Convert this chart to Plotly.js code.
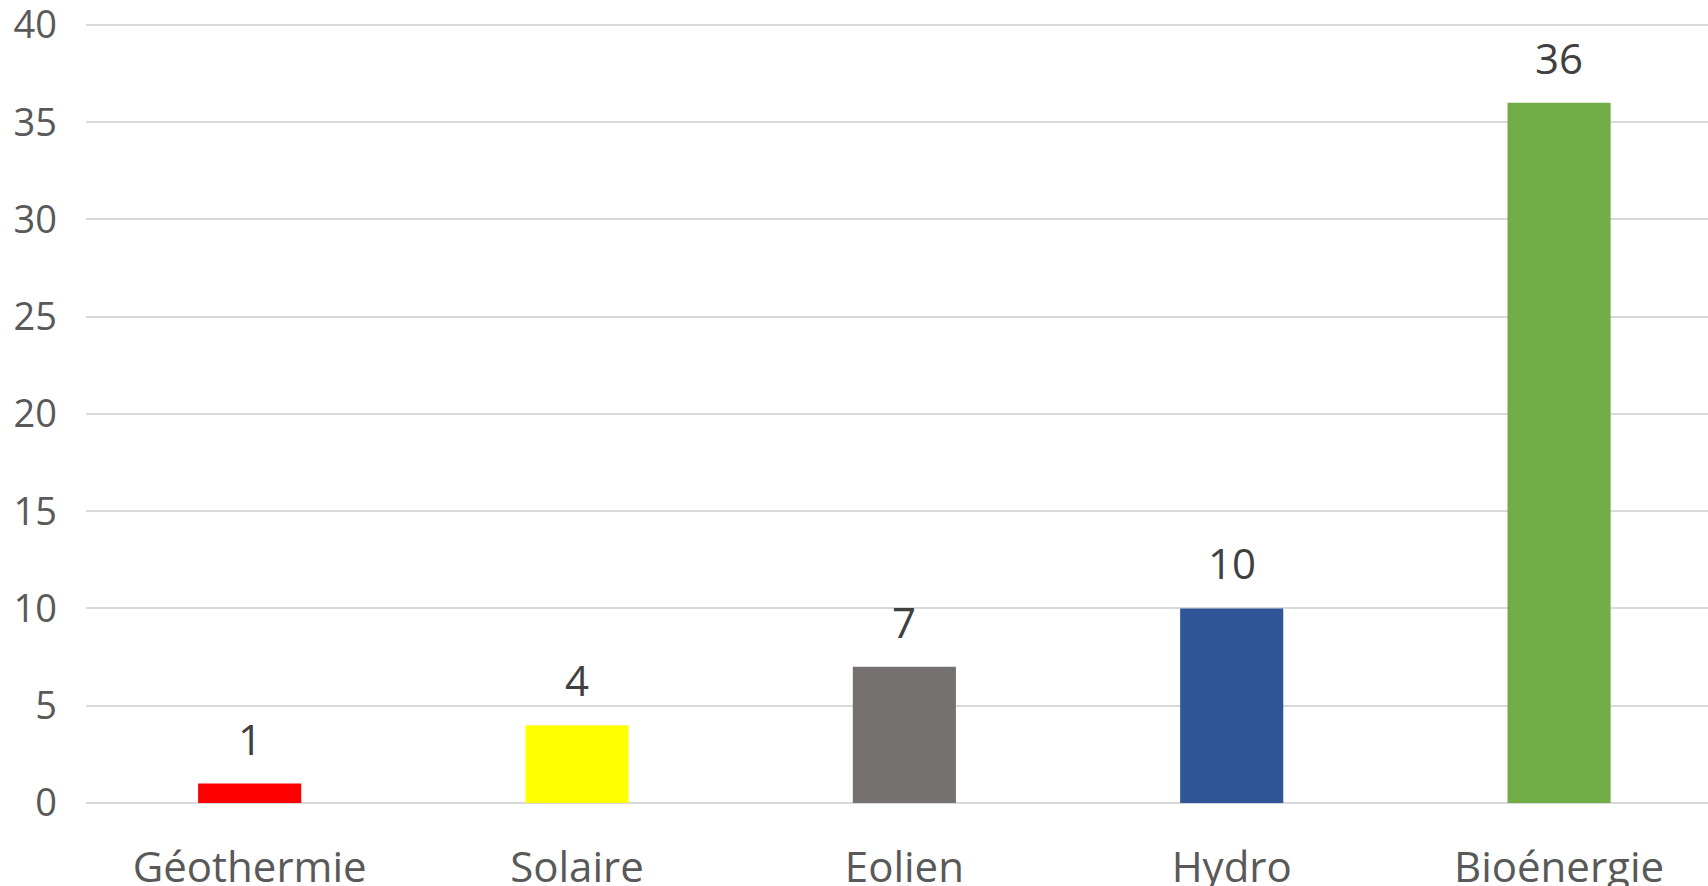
<!DOCTYPE html>
<html>
<head>
<meta charset="utf-8">
<script src="https://cdn.plot.ly/plotly-3.0.1.min.js"></script>
<style>html,body{margin:0;padding:0;background:#fff;}#chart{width:1708px;height:886px;}</style>
</head>
<body>
<div id="chart"></div>
<script>
const categories = ["Géothermie", "Solaire", "Eolien", "Hydro", "Bioénergie"];
const values = [1, 4, 7, 10, 36];
const barColors = ["#FF0000", "#FFFF00", "#767171", "#2F5597", "#70AD47"];
const yTicks = [0, 5, 10, 15, 20, 25, 30, 35, 40];

const FONT = "Open Sans, sans-serif";

const trace = {
  type: "bar",
  x: categories,
  y: values,
  marker: {color: barColors, line: {width: 0}},
  width: 0.315,
  hoverinfo: "x+y"
};

const annotations = categories.map((c, i) => ({
  x: c, y: values[i], xref: "x", yref: "y",
  text: String(values[i]), showarrow: false,
  yanchor: "bottom", yshift: 15,
  font: {family: FONT, size: 42, color: "#404040"}
}));

const layout = {
  width: 1708, height: 886,
  margin: {l: 86, r: 0, t: 23, b: 83},
  paper_bgcolor: "#fff", plot_bgcolor: "#fff",
  showlegend: false,
  xaxis: {
    type: "category",
    range: [-0.5, 4.455],
    showgrid: false, zeroline: false, showline: false,
    ticks: "", ticklabelstandoff: 36, ticklabeloverflow: "allow",
    tickfont: {family: FONT, size: 42, color: "#595959"}
  },
  yaxis: {
    range: [0, 40.1],
    tickvals: yTicks,
    showgrid: true, gridcolor: "#D9D9D9", gridwidth: 2,
    zeroline: true, zerolinecolor: "#D9D9D9", zerolinewidth: 2,
    showline: false, ticks: "", ticklabelstandoff: 28, ticklabeloverflow: "allow",
    tickfont: {family: FONT, size: 38, color: "#595959"}
  },
  annotations: annotations
};

Plotly.newPlot("chart", [trace], layout, {displayModeBar: false, staticPlot: true});
</script>
</body>
</html>
